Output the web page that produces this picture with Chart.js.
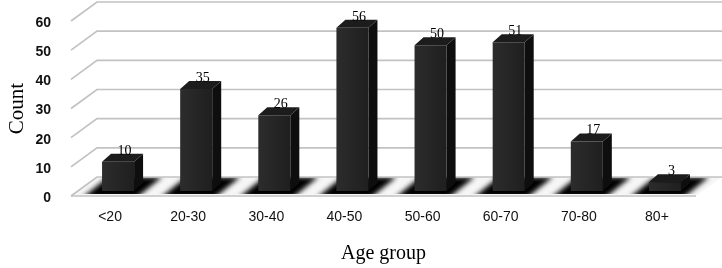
<!DOCTYPE html>
<html>
<head>
<meta charset="utf-8">
<script src="https://cdn.jsdelivr.net/npm/chart.js@4.4.0/dist/chart.umd.min.js"></script>
<style>
  html, body { margin: 0; padding: 0; background: #fff; }
  #wrap { width: 722px; height: 268px; }
</style>
</head>
<body>
<div id="wrap"><canvas id="ageChart"></canvas></div>
<script>
const ageGroups = ['<20', '20-30', '30-40', '40-50', '50-60', '60-70', '70-80', '80+']
const counts = [10, 35, 26, 56, 50, 51, 17, 3]
const yTicks = [0, 10, 20, 30, 40, 50, 60]

// fake 3d: back wall offset, bar offset from front plane, bar depth
const wall = { dx: 26, dy: -19 }
const shift = { dx: 8, dy: -5 }
const depth = { dx: 9, dy: -8 }

function poly(ctx, pts, fill) {
  ctx.beginPath()
  ctx.moveTo(pts[0][0], pts[0][1])
  for (let i = 1; i < pts.length; i++) ctx.lineTo(pts[i][0], pts[i][1])
  ctx.closePath()
  ctx.fillStyle = fill
  ctx.fill()
}

const threeD = {
  id: 'threeD',
  beforeDatasetsDraw(chart) {
    const { ctx, chartArea, scales } = chart
    const y = scales.y
    const left = chartArea.left
    const right = chartArea.right
    const W = chart.width
    const y0 = y.getPixelForValue(0)

    ctx.save()
    // floor
    const floor = [[left, y0], [right, y0], [right + wall.dx, y0 + wall.dy], [W, y0 + wall.dy], [left + wall.dx, y0 + wall.dy]]
    poly(ctx, floor, '#f6f6f6')

    // shadows on the floor
    ctx.save()
    ctx.beginPath()
    ctx.moveTo(left, y0 - 2)
    ctx.lineTo(right, y0 - 2)
    ctx.lineTo(W, y0 + wall.dy)
    ctx.lineTo(left + wall.dx, y0 + wall.dy)
    ctx.closePath()
    ctx.clip()
    ctx.filter = 'blur(2.5px)'
    const meta = chart.getDatasetMeta(0)
    meta.data.forEach((bar) => {
      const x1 = bar.x - bar.width / 2 - 12
      const x2 = bar.x + bar.width / 2 + 10
      poly(ctx, [[x1, y0 + 2], [x2, y0 + 2], [x2 + wall.dx, y0 + wall.dy], [x1 + wall.dx, y0 + wall.dy]], '#000')
    })
    ctx.filter = 'none'
    ctx.restore()

    // grid lines: side wall diagonal + back wall
    ctx.strokeStyle = '#c2c2c2'
    ctx.lineWidth = 1.7
    yTicks.forEach((v) => {
      const py = y.getPixelForValue(v)
      ctx.beginPath()
      ctx.moveTo(left, py)
      ctx.lineTo(left + wall.dx, py + wall.dy)
      ctx.lineTo(W, py + wall.dy)
      ctx.stroke()
    })
    // front edge of the floor
    ctx.beginPath()
    ctx.moveTo(left, y0)
    ctx.lineTo(right, y0)
    ctx.stroke()
    ctx.restore()
  },
  afterDatasetsDraw(chart) {
    const { ctx } = chart
    const meta = chart.getDatasetMeta(0)
    ctx.save()
    meta.data.forEach((bar, i) => {
      const x1 = bar.x - bar.width / 2 + shift.dx
      const x2 = bar.x + bar.width / 2 + shift.dx
      const top = bar.y + shift.dy
      const bot = bar.base + shift.dy
      // side face
      poly(ctx, [[x2, top], [x2 + depth.dx, top + depth.dy], [x2 + depth.dx, bot + depth.dy], [x2, bot]], '#0e0e0e')
      // top face
      poly(ctx, [[x1, top], [x1 + depth.dx, top + depth.dy], [x2 + depth.dx, top + depth.dy], [x2, top]], '#1c1c1c')
      // front face
      const g = ctx.createLinearGradient(x1, 0, x2, 0)
      g.addColorStop(0, '#2c2c2c')
      g.addColorStop(1, '#1f1f1f')
      poly(ctx, [[x1, top], [x2, top], [x2, bot], [x1, bot]], g)
      // value label
      ctx.fillStyle = '#000'
      ctx.font = '14px "Liberation Serif", "Times New Roman", serif'
      ctx.textAlign = 'center'
      ctx.textBaseline = 'alphabetic'
      ctx.fillText(String(counts[i]), (x1 + x2) / 2 + depth.dx / 2 + 2, top + depth.dy + 1)
    })
    ctx.restore()
  },
}

const ctx = document.getElementById('ageChart').getContext('2d')
const ageChart = new Chart(ctx, {
  type: 'bar',
  data: {
    labels: ageGroups,
    datasets: [
      {
        label: 'Count',
        data: counts,
        backgroundColor: 'rgba(0,0,0,0)',
        borderWidth: 0,
        barPercentage: 0.41,
        categoryPercentage: 1,
      },
    ],
  },
  options: {
    responsive: true,
    maintainAspectRatio: false,
    animation: false,
    layout: { padding: { top: 21, right: 26, left: 0, bottom: 0 } },
    plugins: {
      legend: { display: false },
      tooltip: { enabled: false },
    },
    scales: {
      x: {
        grid: { display: false },
        border: { display: false },
        ticks: {
          color: '#111',
          padding: 5,
          font: { family: '"Liberation Sans", Arial, sans-serif', size: 14 },
        },
        title: {
          display: true,
          text: 'Age group',
          color: '#000',
          padding: { top: 0, bottom: 2 },
          font: { family: '"Liberation Serif", "Times New Roman", serif', size: 20 },
        },
        afterFit: (s) => { s.height = 72 },
      },
      y: {
        min: 0,
        max: 60,
        grid: { display: false },
        border: { display: false },
        ticks: {
          stepSize: 10,
          color: '#111',
          padding: 12,
          labelOffset: 2,
          font: { family: '"Liberation Sans", Arial, sans-serif', size: 14, weight: 'bold' },
        },
        title: {
          display: true,
          text: 'Count',
          color: '#000',
          padding: { top: 5, bottom: 0 },
          font: { family: '"Liberation Serif", "Times New Roman", serif', size: 21 },
        },
        afterFit: (s) => { s.width = 71 },
      },
    },
  },
  plugins: [threeD],
})
</script>
</body>
</html>
